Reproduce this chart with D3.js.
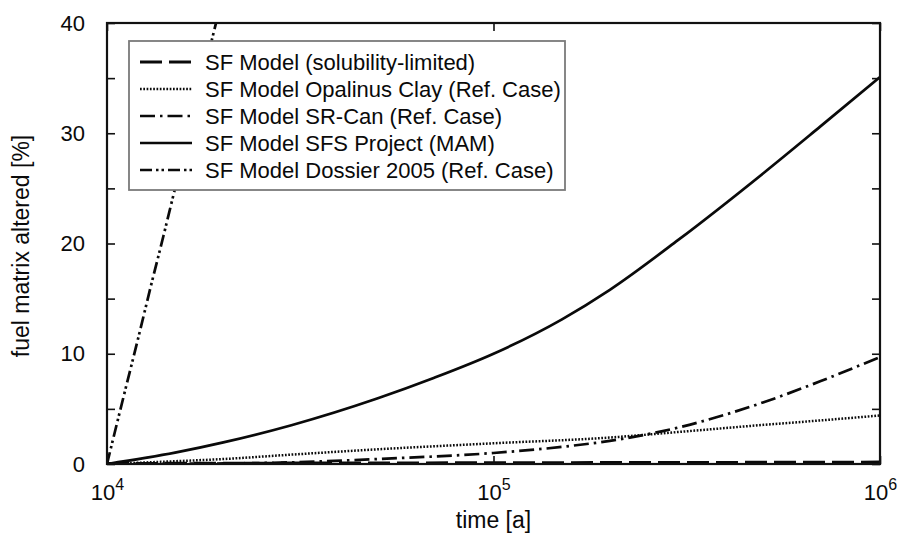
<!DOCTYPE html>
<html>
<head>
<meta charset="utf-8">
<script src="https://cdn.jsdelivr.net/npm/d3@7"></script>
<style>
  html, body { margin: 0; padding: 0; background: #fff; }
  svg { display: block; font-family: "Liberation Sans", Arial, Helvetica, sans-serif; }
</style>
</head>
<body>
<svg id="chart" width="898" height="535"></svg>
<script>
// ---- data (time in years, fuel matrix altered in %) ----
const seriesNames = [
  "SF Model (solubility-limited)",
  "SF Model Opalinus Clay (Ref. Case)",
  "SF Model SR-Can (Ref. Case)",
  "SF Model SFS Project (MAM)",
  "SF Model Dossier 2005 (Ref. Case)"
];
const timeSolubility = [1e4, 2e4, 5e4, 1e5, 2e5, 5e5, 1e6];
const valSolubility  = [0.05, 0.08, 0.1, 0.12, 0.14, 0.16, 0.18];

const timeOpalinus = [1e4, 1.5e4, 2e4, 3e4, 5e4, 1e5, 2e5, 3e5, 5e5, 7e5, 1e6];
const valOpalinus  = [0, 0.25, 0.45, 0.85, 1.33, 1.88, 2.4, 2.9, 3.55, 3.95, 4.4];

const timeSRCan = [1e4, 2e4, 3e4, 5e4, 1e5, 1.5e5, 2e5, 3e5, 5e5, 7e5, 1e6];
const valSRCan  = [0, 0.05, 0.15, 0.45, 1.0, 1.55, 2.1, 3.3, 5.6, 7.5, 9.7];

const timeSFS = [1e4, 1.5e4, 2e4, 3e4, 5e4, 7e4, 1e5, 1.5e5, 2e5, 3e5, 5e5, 7e5, 1e6];
const valSFS  = [0, 1.03, 1.96, 3.52, 5.94, 7.8, 10.0, 13.1, 15.8, 20.3, 26.4, 30.6, 35.1];

const timeDossier = [1e4, 1.1e4, 1.2e4, 1.3e4, 1.4e4, 1.5e4, 1.6e4, 1.8e4, 2e4];
const valDossier  = [0, 5.9, 11.2, 16.2, 20.7, 25.0, 29.0, 36.2, 42.7];

const xTickValues = [1e4, 1e5, 1e6];
const xTickExponents = ["4", "5", "6"];
const yTickValues = [0, 5, 10, 15, 20, 25, 30, 35, 40];
const yLabelValues = [0, 10, 20, 30, 40];

const xTitle = "time [a]";
const yTitle = "fuel matrix altered [%]";

// ---- layout ----
const svg = d3.select("#chart");
const L = 107, R = 880, T = 23, B = 464;

const x = d3.scaleLog().domain([1e4, 1e6]).range([L, R]);
const y = d3.scaleLinear().domain([0, 40]).range([B, T]);

const zip = (ts, vs) => ts.map((t, i) => ({ t, v: vs[i] }));
const series = [
  { data: zip(timeSolubility, valSolubility), dash: "22,7", w: 2.8 },
  { data: zip(timeOpalinus, valOpalinus), dash: "1.7,1.6", w: 2.5 },
  { data: zip(timeSRCan, valSRCan), dash: "15,5,2.5,5", w: 2.7 },
  { data: zip(timeSFS, valSFS), dash: null, w: 2.7 },
  { data: zip(timeDossier, valDossier), dash: "12,4,2.5,3,2.5,4", w: 2.7 }
];

svg.append("defs").append("clipPath").attr("id", "plotclip")
  .append("rect").attr("x", L).attr("y", T).attr("width", R - L).attr("height", B - T);

const line = d3.line().x(d => x(d.t)).y(d => y(d.v)).curve(d3.curveMonotoneX);

const gLines = svg.append("g").attr("clip-path", "url(#plotclip)");
series.forEach(s => {
  gLines.append("path")
    .datum(s.data)
    .attr("d", line)
    .attr("fill", "none")
    .attr("stroke", "#0a0a0a")
    .attr("stroke-width", s.w)
    .attr("stroke-dasharray", s.dash);
});

// ---- axes ----
const axisFont = 22;
const yAxis = d3.axisLeft(y).tickValues(yTickValues).tickSize(-8).tickPadding(22)
  .tickFormat(d => yLabelValues.includes(d) ? String(d) : "");
const gy = svg.append("g").attr("transform", `translate(${L},0)`).call(yAxis);
gy.select(".domain").remove();
gy.selectAll("line").attr("stroke", "#111").attr("stroke-width", 1.6);
gy.selectAll("text").attr("font-size", axisFont).attr("fill", "#0a0a0a").attr("font-family", null);

const yAxisR = d3.axisRight(y).tickValues(yTickValues).tickSize(-8).tickFormat("");
const gyr = svg.append("g").attr("transform", `translate(${R},0)`).call(yAxisR);
gyr.select(".domain").remove();
gyr.selectAll("line").attr("stroke", "#111").attr("stroke-width", 1.6);

const xAxis = d3.axisBottom(x).tickValues(xTickValues).tickSize(-8).tickPadding(30).tickFormat(() => "");
const gx = svg.append("g").attr("transform", `translate(0,${B})`).call(xAxis);
gx.select(".domain").remove();
gx.selectAll("line").attr("stroke", "#111").attr("stroke-width", 1.6);
gx.selectAll(".tick text").each(function(d, i) {
  const t = d3.select(this).attr("y", 36).attr("dy", null)
    .attr("font-size", axisFont).attr("fill", "#0a0a0a").attr("font-family", null)
    .attr("text-anchor", "middle");
  t.append("tspan").text("10");
  t.append("tspan").attr("dy", -10).attr("font-size", 16).text(xTickExponents[i]);
});

const xAxisT = d3.axisTop(x).tickValues(xTickValues).tickSize(-8).tickFormat("");
const gxt = svg.append("g").attr("transform", `translate(0,${T})`).call(xAxisT);
gxt.select(".domain").remove();
gxt.selectAll("line").attr("stroke", "#111").attr("stroke-width", 1.6);

// frame
svg.append("rect").attr("x", L).attr("y", T).attr("width", R - L).attr("height", B - T)
  .attr("fill", "none").attr("stroke", "#111").attr("stroke-width", 2.2);

// titles
svg.append("text").attr("x", (L + R) / 2).attr("y", 528).attr("text-anchor", "middle")
  .attr("font-size", 23).attr("fill", "#0a0a0a").text(xTitle);
svg.append("text").attr("transform", `translate(29,246) rotate(-90)`)
  .attr("text-anchor", "middle").attr("font-size", 23).attr("fill", "#0a0a0a").text(yTitle);

// ---- legend ----
const lg = svg.append("g");
lg.append("rect").attr("x", 129).attr("y", 41).attr("width", 436).attr("height", 149)
  .attr("fill", "#fff").attr("stroke", "#7a7a7a").attr("stroke-width", 1.8);
const rowY = d3.scaleLinear().domain([0, 4]).range([62, 170]);
series.forEach((s, i) => {
  const cy = rowY(i);
  lg.append("line").attr("x1", 140).attr("x2", 192).attr("y1", cy).attr("y2", cy)
    .attr("stroke", "#0a0a0a").attr("stroke-width", s.w).attr("stroke-dasharray", s.dash);
  lg.append("text").attr("x", 205).attr("y", cy + 8).attr("font-size", 22)
    .attr("fill", "#0a0a0a").text(seriesNames[i]);
});
</script>
</body>
</html>
